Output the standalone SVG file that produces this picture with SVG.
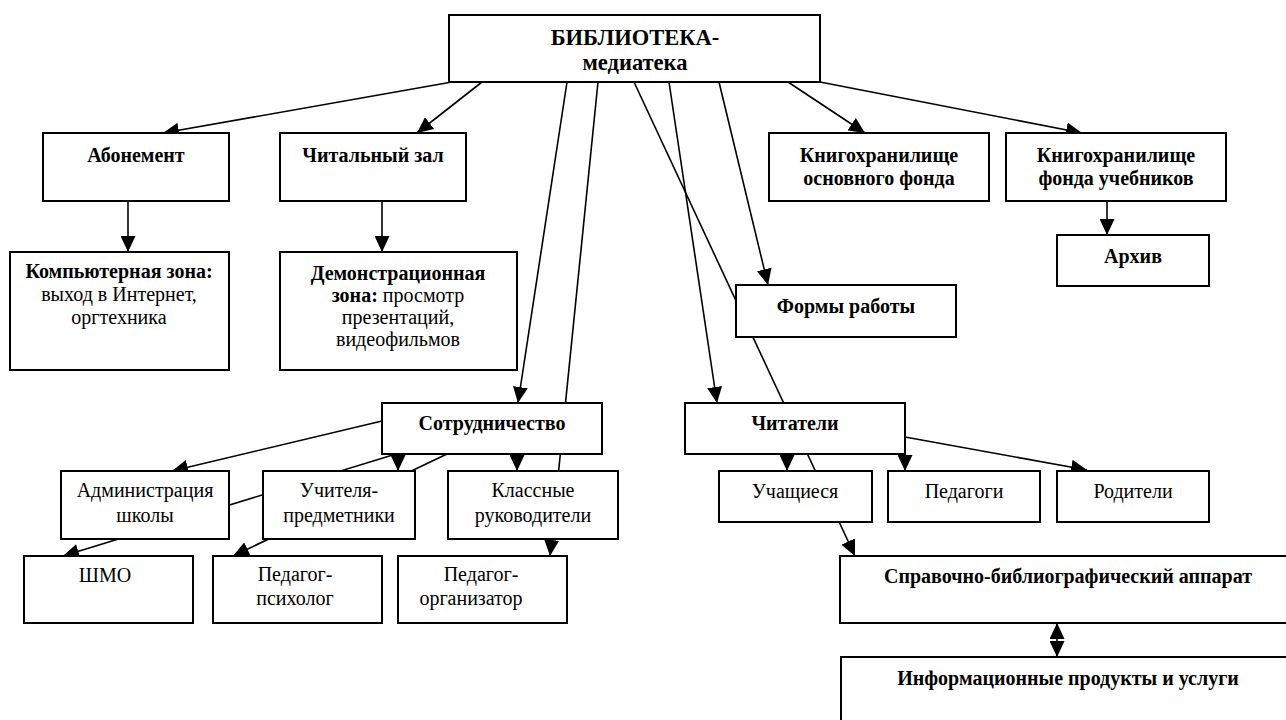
<svg xmlns="http://www.w3.org/2000/svg" width="1286" height="720" viewBox="0 0 1286 720">
<style>
.box{fill:#fff;stroke:#000;stroke-width:2}
.c{stroke:#000;stroke-width:1.6;fill:none;marker-end:url(#ah)}
text{font-family:"Liberation Serif","Times New Roman",serif;font-size:20px;fill:#000;text-anchor:middle}
.b{font-weight:bold}
.t{font-size:22.5px}
</style>
<defs>
<marker id="ah" markerUnits="userSpaceOnUse" markerWidth="16" markerHeight="15" refX="16" refY="7.5" orient="auto-start-reverse">
<path d="M0,0 L16,7.5 L0,15 z" fill="#000"/>
</marker>
</defs>
<rect width="1286" height="720" fill="#fff"/>
<g id="connectors">
<line class="c" x1="452" y1="82" x2="163" y2="133"/>
<line class="c" x1="482" y1="82" x2="417" y2="133"/>
<line class="c" x1="567" y1="82" x2="518" y2="403"/>
<line class="c" x1="598" y1="82" x2="550" y2="556"/>
<line class="c" x1="634" y1="82" x2="855" y2="556"/>
<line class="c" x1="669" y1="82" x2="717" y2="403"/>
<line class="c" x1="719" y1="82" x2="768" y2="285"/>
<line class="c" x1="788" y1="82" x2="865" y2="133"/>
<line class="c" x1="820" y1="82" x2="1082" y2="133"/>
<line class="c" x1="128" y1="201" x2="128" y2="252"/>
<line class="c" x1="382" y1="201" x2="382" y2="252"/>
<line class="c" x1="1107" y1="201" x2="1107" y2="235"/>
<line class="c" x1="382" y1="421" x2="172" y2="471"/>
<line class="c" x1="398" y1="454" x2="398" y2="471"/>
<line class="c" x1="396" y1="454" x2="63" y2="556"/>
<line class="c" x1="447" y1="454" x2="233" y2="556"/>
<line class="c" x1="517" y1="454" x2="517" y2="471"/>
<line class="c" x1="787" y1="454" x2="787" y2="471"/>
<line class="c" x1="905" y1="454" x2="905" y2="471"/>
<line class="c" x1="905" y1="437" x2="1087" y2="470"/>
<line class="c" x1="1057" y1="640" x2="1057" y2="623"/>
<line class="c" x1="1057" y1="640" x2="1057" y2="657"/>
</g>
<g id="n-top"><rect class="box" x="449" y="15" width="371" height="67"/>
<text class="b t" x="635" y="45">БИБЛИОТЕКА-</text><text class="b t" x="635" y="70">медиатека</text></g>
<g id="n-abonement"><rect class="box" x="43" y="133" width="186" height="68"/><text class="b" x="136" y="162">Абонемент</text></g>
<g id="n-chitzal"><rect class="box" x="280" y="133" width="186" height="68"/><text class="b" x="373" y="162">Читальный зал</text></g>
<g id="n-knig1"><rect class="box" x="769" y="133" width="220" height="68"/><text class="b" x="879" y="162">Книгохранилище</text><text class="b" x="879" y="185">основного фонда</text></g>
<g id="n-knig2"><rect class="box" x="1006" y="133" width="220" height="68"/><text class="b" x="1116" y="162">Книгохранилище</text><text class="b" x="1116" y="185">фонда учебников</text></g>
<g id="n-arhiv"><rect class="box" x="1057" y="235" width="152" height="51"/><text class="b" x="1133" y="263">Архив</text></g>
<g id="n-komp"><rect class="box" x="10" y="252" width="219" height="118"/><text class="b" x="119" y="278" font-size="19.5">Компьютерная зона:</text><text x="119" y="301">выход в Интернет,</text><text x="119" y="324">оргтехника</text></g>
<g id="n-demo"><rect class="box" x="280" y="252" width="237" height="118"/><text class="b" x="398" y="280">Демонстрационная</text><text x="398" y="302"><tspan class="b">зона:</tspan> просмотр</text><text x="398" y="324">презентаций,</text><text x="398" y="346">видеофильмов</text></g>
<g id="n-formy"><rect class="box" x="736" y="285" width="220" height="52"/><text class="b" x="846" y="313">Формы работы</text></g>
<g id="n-sotr"><rect class="box" x="382" y="403" width="220" height="51"/><text class="b" x="492" y="430">Сотрудничество</text></g>
<g id="n-chitateli"><rect class="box" x="685" y="403" width="220" height="51"/><text class="b" x="795" y="430">Читатели</text></g>
<g id="n-admin"><rect class="box" x="61" y="471" width="168" height="68"/><text x="145" y="497">Администрация</text><text x="145" y="522">школы</text></g>
<g id="n-uchitelya"><rect class="box" x="263" y="471" width="152" height="68"/><text x="339" y="497">Учителя-</text><text x="339" y="522">предметники</text></g>
<g id="n-klass"><rect class="box" x="448" y="471" width="170" height="68"/><text x="533" y="497">Классные</text><text x="533" y="522">руководители</text></g>
<g id="n-shmo"><rect class="box" x="24" y="556" width="169" height="67"/><text x="105" y="582">ШМО</text></g>
<g id="n-psih"><rect class="box" x="213" y="556" width="169" height="67"/><text x="295" y="581">Педагог-</text><text x="295" y="605">психолог</text></g>
<g id="n-org"><rect class="box" x="398" y="556" width="169" height="67"/><text x="481" y="581">Педагог-</text><text x="471" y="605">организатор</text></g>
<g id="n-uchashiesya"><rect class="box" x="719" y="471" width="153" height="51"/><text x="795" y="498">Учащиеся</text></g>
<g id="n-pedagogi"><rect class="box" x="888" y="471" width="152" height="51"/><text x="964" y="498">Педагоги</text></g>
<g id="n-roditeli"><rect class="box" x="1057" y="471" width="152" height="51"/><text x="1133" y="498">Родители</text></g>
<g id="n-sprav"><rect class="box" x="840" y="556" width="460" height="67"/><text class="b" x="1068" y="583">Справочно-библиографический аппарат</text></g>
<g id="n-inform"><rect class="box" x="841" y="657" width="460" height="80"/><text class="b" x="1068" y="685">Информационные продукты и услуги</text></g>
</svg>
